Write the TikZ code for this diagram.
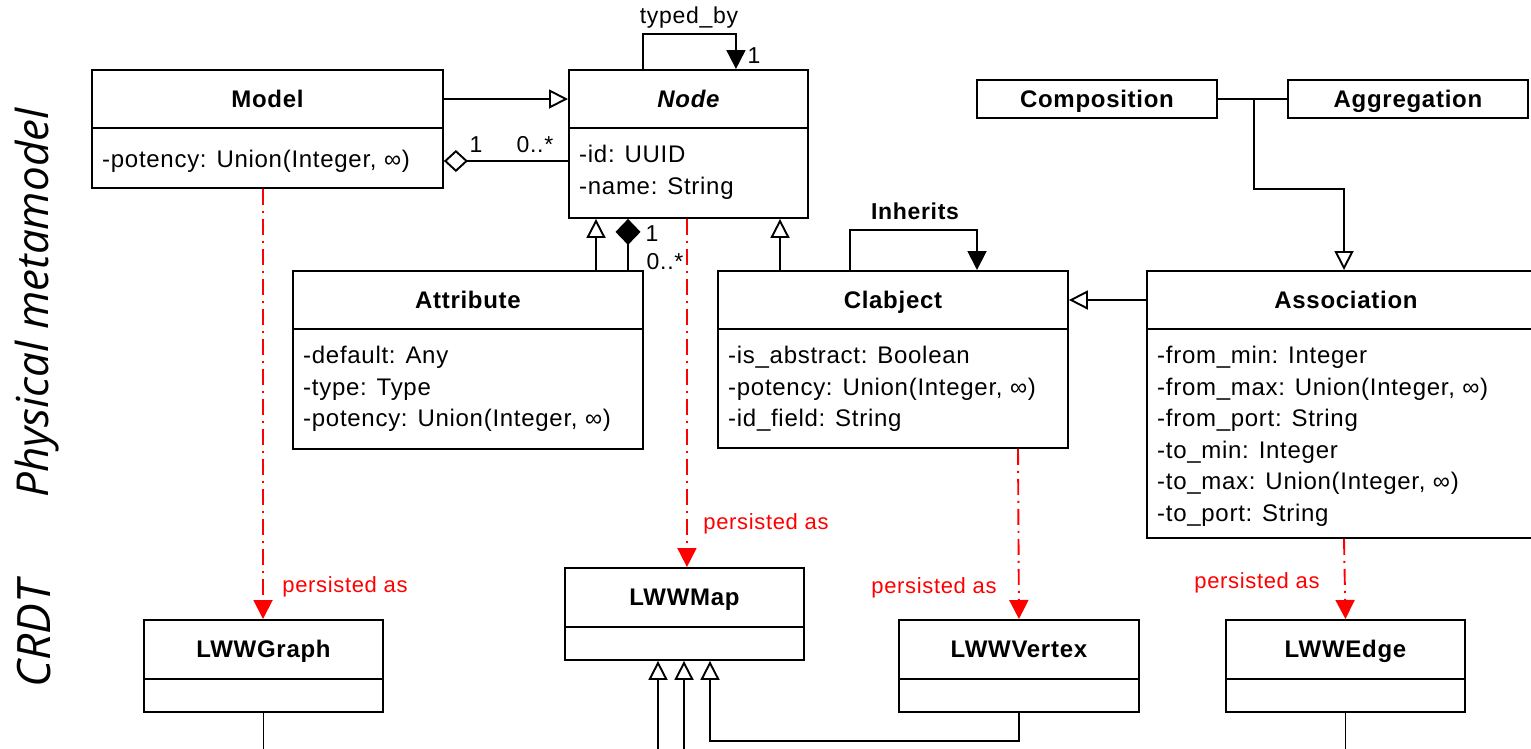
\documentclass[tikz,border=0pt]{standalone}
\usepackage{fontspec}
\setmainfont{Liberation Sans}[LetterSpace=3]
\newfontfamily\sidefont{Open Sans}
\usetikzlibrary{arrows.meta,calc}
\tikzset{
  classbox/.style={draw, line width=1.9pt, rectangle, inner sep=0pt, anchor=north west, fill=white},
  boxline/.style={line width=1.9pt},
  ttl/.style={font=\bfseries\fontsize{24}{28}\selectfont, inner sep=0pt, text height=17.2pt, text depth=0pt},
  attrs/.style={align=left, anchor=north west, inner xsep=0pt, inner ysep=17pt,
                font=\fontsize{24}{31.5}\selectfont, execute at begin node=\strut},
  conn/.style={line width=1.9pt},
  gen/.style={conn, -{Triangle[open,length=19pt,width=19pt]}},
  solidtip/.style={conn, -{Triangle[length=19pt,width=19pt]}},
  persist/.style={red, line width=1.9pt, dash pattern=on 16pt off 6pt on 2pt off 6pt,
                  -{Triangle[length=19pt,width=19pt]}},
  lbl/.style={font=\fontsize{23}{28}\selectfont, inner sep=0pt},
  plbl/.style={font=\fontsize{22}{26}\selectfont, inner sep=0pt, text=red},
  sidelbl/.style={rotate=90, anchor=base, inner sep=0pt, font=\sidefont\itshape\fontsize{44}{52}\selectfont}
}
% name, x, y, w, h, divider offset, title, attributes
\newcommand\umlclass[8]{%
  \node[classbox, minimum width=#4pt, minimum height=#5pt] (#1) at (#2,#3) {};
  \draw[boxline] ([yshift=-#6pt]#1.north west) -- ([yshift=-#6pt]#1.north east);
  \path (#1.north west) -- ([yshift=-#6pt]#1.north east) node[midway, ttl] (#1-t) {#7};
  \node[attrs] (#1-a) at ([xshift=11pt,yshift=-#6pt]#1.north west) {#8};
}
\begin{document}
\begin{tikzpicture}[x=1pt,y=-1pt]
\useasboundingbox (0,0) rectangle (1531,748);
\fill[white] (0,0) rectangle (1531,748);

% side labels
\node[sidelbl] (side1) at (48,303) {Physical metamodel};
\node[sidelbl, font=\sidefont\itshape\fontsize{46}{54}\selectfont] (side2) at (50,634) {CRDT};

% classes
\umlclass{model}{91}{69}{351}{118}{59}{Model}{-potency: Union(Integer, ∞)}
\umlclass{node}{568}{69}{239}{148}{59}{\itshape Node}{-id: UUID\\-name: String}
\umlclass{attr}{292}{270}{350}{178}{59}{Attribute}{-default: Any\\-type: Type\\-potency: Union(Integer, ∞)}
\umlclass{clab}{717}{270}{350}{177}{59}{Clabject}{-is\_abstract: Boolean\\-potency: Union(Integer, ∞)\\-id\_field: String}
\umlclass{assoc}{1146}{270}{398}{267}{59}{Association}{-from\_min: Integer\\-from\_max: Union(Integer, ∞)\\-from\_port: String\\-to\_min: Integer\\-to\_max: Union(Integer, ∞)\\-to\_port: String}
\node[classbox, ttl, minimum width=240pt, minimum height=38pt] (comp) at (976,79) {Composition};
\node[classbox, ttl, minimum width=240pt, minimum height=38pt] (aggr) at (1287,79) {Aggregation};

\umlclass{map}{564}{567}{239}{92}{60}{LWWMap}{}
\umlclass{graph}{143}{619}{239}{92}{60}{LWWGraph}{}
\umlclass{vertex}{898}{619}{240}{92}{60}{LWWVertex}{}
\umlclass{edge}{1225}{619}{239}{92}{60}{LWWEdge}{}

% Model -> Node
\draw[gen] ([yshift=-30pt]model.north east) -- ([yshift=-30pt]node.north west);
\draw[conn, {Diamond[open,length=24pt,width=22pt]}-] ([yshift=-92pt]model.north east) -- ([yshift=-92pt]node.north west);
\node[lbl] (m1) at (476,145) {1};
\node[lbl] (m0) at (535,145) {0..*};

% typed_by
\draw[solidtip] ([xshift=-45.5pt]node.north) -- ++(0,-35) -| ([xshift=47.5pt]node.north);
\node[lbl] (tb) at (689,18) {typed\_by};
\node[lbl] (tb1) at (754,56) {1};

% Attribute -> Node
\draw[gen] ([xshift=304pt]attr.north west) -- ([xshift=28pt]node.south west);
\draw[conn, -{Diamond[length=26pt,width=25pt]}] ([xshift=336pt]attr.north west) -- ([xshift=60pt]node.south west);
\node[lbl] (c1) at (652,234) {1};
\node[lbl] (c0) at (665,262) {0..*};

% Clabject -> Node
\draw[gen] ([xshift=63pt]clab.north west) -- ([xshift=212pt]node.south west);
% Inherits
\draw[solidtip] ([xshift=133pt]clab.north west) -- ++(0,-40) -| ([xshift=260pt]clab.north west);
\node[lbl, font=\bfseries\fontsize{23}{28}\selectfont] (inh) at (915,211) {Inherits};

% Association -> Clabject
\draw[gen] ([yshift=-30pt]assoc.north west) -- ([yshift=-30pt]clab.north east);

% Composition / Aggregation -> Association
\draw[conn] (comp.east) -- (aggr.west);
\draw[gen] ([xshift=36pt]comp.east) -- ++(0,90) -| ([xshift=198pt]assoc.north west);

% persisted as
\draw[persist] ([xshift=172pt]model.south west) -- ([xshift=120pt]graph.north west);
\draw[persist] ([xshift=-1.5pt]node.south) -- ([xshift=2.5pt]map.north);
\draw[persist] ([xshift=301pt]clab.south west) -- (vertex.north);
\draw[persist] ([xshift=198pt]assoc.south west) -- (edge.north);
\node[plbl] (p1) at (345,587) {persisted as};
\node[plbl] (p2) at (766,524) {persisted as};
\node[plbl] (p3) at (934,588) {persisted as};
\node[plbl] (p4) at (1257,583) {persisted as};

% CRDT level
\draw[conn] (graph.south) -- ([yshift=-50pt]graph.south);
\draw[gen] ([xshift=94pt,yshift=-100pt]map.south west) -- ([xshift=94pt]map.south west);
\draw[gen] ([xshift=120pt,yshift=-100pt]map.south west) -- ([xshift=120pt]map.south west);
\draw[gen] (vertex.south) -- ++(0,28) -| ([xshift=146pt]map.south west);
\draw[conn] (edge.south) -- ([yshift=-50pt]edge.south);
\end{tikzpicture}
\end{document}
